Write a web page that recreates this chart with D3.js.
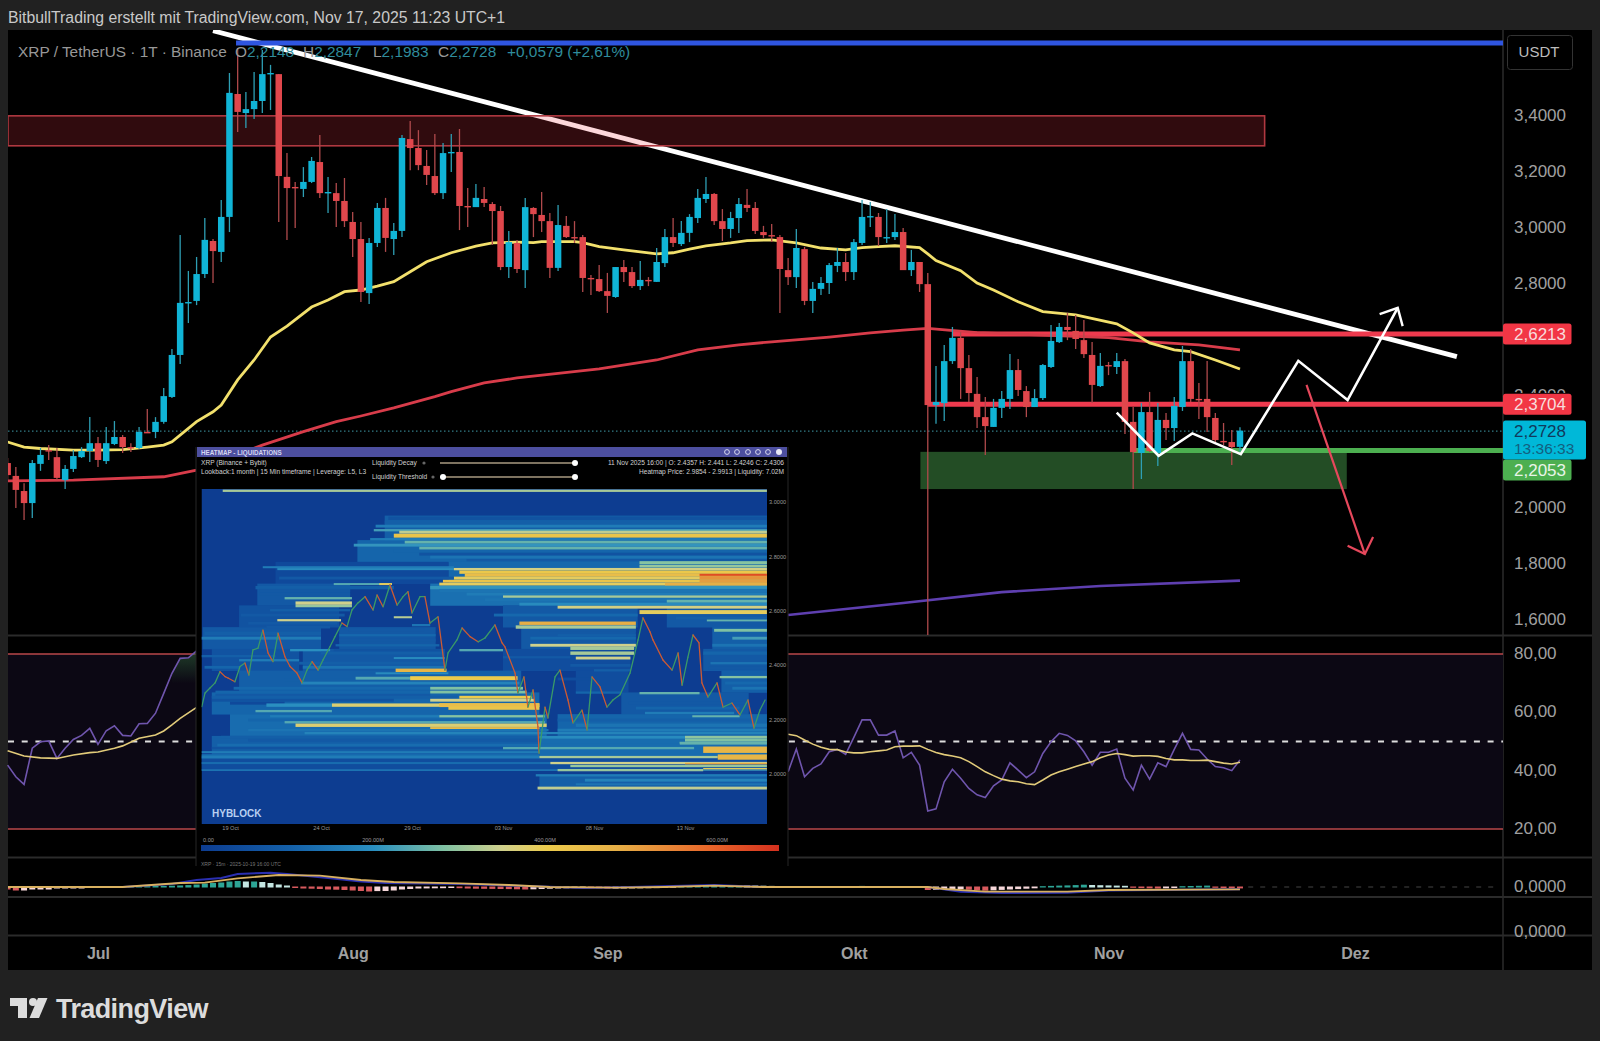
<!DOCTYPE html>
<html><head><meta charset="utf-8">
<style>html,body{margin:0;padding:0;background:#212121;overflow:hidden}svg{display:block}text{font-family:"Liberation Sans",Arial,sans-serif}</style>
<script src="https://cdn.jsdelivr.net/npm/d3@7"></script></head><body><div id="c"></div>
<script>
// ---- daily candles, first day is 20 Jun 2025 (day -11 relative to 1 Jul) ----
const firstDay=-11;
const opens=[2.157,2.111,2.057,2.014,2.154,2.203,2.178,2.096,2.136,2.178,2.200,
2.228,2.164,2.225,2.250,2.214,2.211,2.268,2.268,2.304,2.393,
2.543,2.729,2.736,2.832,2.950,2.911,3.036,3.475,3.407,3.421,
3.450,3.546,3.546,3.179,3.143,3.136,3.161,3.232,3.121,3.121,
3.093,3.018,2.957,2.764,2.943,3.068,2.957,2.986,3.314,3.282,
3.218,3.182,3.121,3.264,3.268,3.075,3.071,3.100,3.082,3.057,
2.857,2.943,2.846,3.068,3.043,3.021,2.854,3.004,2.964,2.964,
2.818,2.814,2.771,2.750,2.857,2.839,2.789,2.811,2.804,2.871,
2.964,2.939,2.979,3.032,3.100,3.118,3.021,2.993,3.032,3.079,
3.068,2.982,2.971,2.964,2.846,2.821,2.921,2.736,2.779,2.800,
2.861,2.875,2.839,2.943,3.036,3.036,2.961,2.964,2.982,2.846,
2.875,2.796,2.364,2.371,2.521,2.604,2.496,2.404,2.321,2.286,
2.354,2.386,2.489,2.414,2.357,2.389,2.500,2.589,2.643,2.629,
2.596,2.543,2.432,2.507,2.500,2.521,2.304,2.193,2.339,2.193,
2.311,2.282,2.357,2.521,2.386,2.386,2.318,2.236,2.232,2.2148];
const highs=[2.175,2.143,2.085,2.168,2.211,2.221,2.211,2.150,2.203,2.214,2.321,
2.250,2.286,2.307,2.257,2.228,2.286,2.350,2.321,2.425,2.564,
2.971,2.843,2.893,3.032,2.957,3.096,3.550,3.639,3.482,3.554,
3.632,3.579,3.546,3.264,3.161,3.214,3.250,3.329,3.179,3.157,
3.175,3.054,3.018,2.961,3.086,3.104,3.014,3.329,3.379,3.346,
3.275,3.332,3.300,3.332,3.350,3.139,3.154,3.143,3.089,3.075,
2.986,2.954,3.104,3.071,3.125,3.050,3.079,3.039,3.021,2.971,
2.829,2.864,2.836,2.857,2.882,2.857,2.879,2.821,2.925,2.993,
3.032,3.021,3.046,3.136,3.179,3.121,3.064,3.054,3.104,3.136,
3.089,3.004,3.011,2.971,2.889,2.993,2.929,2.804,2.821,2.871,
2.925,2.907,2.957,3.096,3.089,3.050,3.064,3.046,2.996,2.918,
2.875,2.836,2.504,2.579,2.643,2.625,2.543,2.464,2.393,2.386,
2.414,2.546,2.529,2.432,2.421,2.511,2.650,2.657,2.693,2.686,
2.668,2.589,2.550,2.518,2.550,2.529,2.357,2.371,2.411,2.371,
2.336,2.393,2.575,2.564,2.443,2.521,2.336,2.300,2.275,2.2847];
const lows=[2.096,1.996,1.954,1.961,2.129,2.168,2.096,2.064,2.125,2.175,2.161,
2.143,2.154,2.221,2.193,2.196,2.207,2.264,2.246,2.297,2.389,
2.511,2.657,2.721,2.818,2.800,2.875,2.982,3.339,3.354,3.386,
3.407,3.418,3.018,2.954,2.996,3.107,3.157,3.104,3.050,3.000,
3.000,2.893,2.732,2.725,2.929,2.911,2.900,2.964,3.203,3.203,
3.150,3.114,3.100,3.196,2.989,3.000,3.071,3.071,2.936,2.846,
2.818,2.836,2.782,2.964,2.982,2.818,2.843,2.961,2.943,2.768,
2.757,2.768,2.693,2.747,2.804,2.782,2.775,2.789,2.804,2.857,
2.929,2.932,2.946,3.014,3.086,3.007,2.950,2.961,2.979,3.054,
2.975,2.961,2.946,2.693,2.793,2.782,2.721,2.693,2.757,2.761,
2.839,2.807,2.811,2.936,3.000,2.932,2.943,2.954,2.846,2.825,
2.768,1.543,2.297,2.307,2.511,2.386,2.375,2.282,2.186,2.286,
2.318,2.350,2.396,2.321,2.357,2.382,2.496,2.586,2.596,2.564,
2.532,2.371,2.429,2.471,2.475,2.261,2.064,2.100,2.196,2.146,
2.239,2.236,2.343,2.375,2.314,2.268,2.232,2.221,2.150,2.1983];
const closes=[2.114,2.061,2.014,2.157,2.186,2.200,2.104,2.136,2.182,2.200,2.228,
2.168,2.228,2.250,2.214,2.211,2.268,2.264,2.304,2.396,2.543,
2.729,2.732,2.832,2.954,2.914,3.036,3.479,3.411,3.421,3.450,
3.546,3.550,3.182,3.139,3.139,3.161,3.236,3.121,3.125,3.093,
3.021,2.957,2.768,2.943,3.068,2.961,2.986,3.318,3.282,3.221,
3.186,3.121,3.264,3.268,3.075,3.071,3.104,3.086,3.057,2.857,
2.946,2.850,3.071,3.046,3.021,2.854,3.007,2.964,2.961,2.818,
2.815,2.771,2.754,2.857,2.839,2.789,2.811,2.807,2.875,2.964,
2.943,2.979,3.036,3.104,3.118,3.021,2.993,3.032,3.082,3.068,
2.986,2.971,2.968,2.850,2.821,2.925,2.736,2.779,2.800,2.864,
2.875,2.839,2.946,3.036,3.039,2.964,2.964,2.982,2.846,2.875,
2.796,2.364,2.375,2.521,2.604,2.496,2.407,2.321,2.289,2.354,
2.386,2.489,2.418,2.357,2.389,2.507,2.593,2.643,2.632,2.600,
2.546,2.436,2.504,2.504,2.521,2.304,2.196,2.339,2.200,2.311,
2.282,2.361,2.521,2.386,2.382,2.321,2.239,2.232,2.214,2.2728];
// ---- moving averages (days relative to 1 Jul, prices) ----
const ema50Days=[-11,-9,-7,-3,0,3,6,8,9,12,14,15,17,19,21,23,26,28,30,32,34,36,38,40,43,46,48,51,53,54,58,59,61,64,68,70,72,74,77,79,82,85,88,91,93,95,97,100,101,102,105,107,109,112,115,119,124,126,128,131,133,136,139];
const ema50Values=[2.232,2.214,2.209,2.203,2.203,2.205,2.214,2.221,2.233,2.305,2.340,2.364,2.454,2.525,2.607,2.646,2.714,2.739,2.769,2.775,2.789,2.805,2.840,2.876,2.908,2.932,2.943,2.946,2.944,2.948,2.948,2.944,2.930,2.918,2.904,2.908,2.921,2.933,2.943,2.951,2.954,2.943,2.925,2.918,2.926,2.930,2.933,2.926,2.904,2.880,2.844,2.800,2.775,2.733,2.698,2.686,2.654,2.622,2.586,2.561,2.555,2.525,2.493];
const ema200Days=[-11,-3,8,12,20,25,29,32,36,41,43,47,51,61,68,73,78,82,89,94,98,101,107,123,128,134,139];
const ema200Values=[2.093,2.096,2.108,2.132,2.221,2.269,2.305,2.325,2.354,2.394,2.412,2.443,2.461,2.493,2.525,2.561,2.579,2.590,2.607,2.622,2.632,2.638,2.623,2.605,2.590,2.579,2.561];
const longMaDays=[84,98,110,122,139];
const longMaValues=[1.614,1.657,1.696,1.718,1.737];
// ---- chart drawings ----
const zoneTop=3.397, zoneBottom=3.290, zoneEndDay=142;
const demandTop=2.197, demandBottom=2.064, demandStartDay=100.1, demandEndDay=152;
const levels=[2.6213,2.3704,2.2053], levelStartDays=[104,101,126];
const lastPrice=2.2728;
const ceilingPrice=3.657, ceilingStartDay=16.8;
const trendDays=[14,165.4], trendPrices=[3.701,2.537];
const zigzagDays=[124,129.1,133.2,139.1,146.1,152.1,158.2], zigzagPrices=[2.337,2.183,2.263,2.189,2.522,2.382,2.711];
const upHeadDays=[156,158.2,158.8], upHeadPrices=[2.689,2.711,2.646];
const downDays=[147.1,154.2], downPrices=[2.436,1.832];
const downHeadDays=[152.1,154.2,155.2], downHeadPrices=[1.862,1.832,1.893];
// ---- axes ----
const monthDays=[0,31,62,92,123,153], monthLabels=["Jul","Aug","Sep","Okt","Nov","Dez"];
const priceTicks=[3.4,3.2,3.0,2.8,2.4,2.0,1.8,1.6];
const rsiTicks=[80,60,40,20];
// ---- RSI ----
const rsiLeftDays=d3.range(-11,13);
const rsiLeft=[41.9,37.9,35.3,47.7,49.9,50.2,44.2,47.7,50.7,52.1,54.5,49.0,53.7,55.4,52.1,51.9,56.1,56.2,59.7,66.5,73.4,78.5,78.7,81.1];
const rsiMaLeftDays=[-11,-9,-7,-5,-3,-1,0,2,3,5,7,8,9,10,12];
const rsiMaLeft=[46.8,45.0,44.4,44.2,45.4,46.2,46.4,47.7,48.5,51.1,52.2,53.6,55.7,57.9,61.7];
const rsiRightDays=d3.range(84,140);
const rsiRight=[39.6,47.4,37.9,40.8,42.3,46.5,47.3,45.6,51.4,57.4,57.4,52.2,52.2,53.6,44.4,46.3,41.9,26.2,26.9,36.2,40.5,37.4,33.9,31.7,30.8,34.8,36.8,42.7,40.2,37.6,39.6,45.9,49.9,52.8,52.1,50.2,46.5,41.9,46.3,46.3,47.4,37.4,33.4,41.9,37.1,42.7,41.4,47.3,52.8,47.3,47.1,44.0,41.4,41.0,40.0,43.7];
const rsiMaRight=[52.5,52.0,50.5,49.1,48.0,47.3,47.2,46.4,46.1,46.1,46.5,46.8,47.1,48.2,48.4,48.4,48.5,47.3,46.2,45.5,45.0,44.4,43.1,41.4,39.6,38.3,37.1,36.5,36.2,35.5,35.2,36.8,38.5,39.6,40.5,41.4,42.3,43.1,44.4,45.4,45.9,45.5,45.0,45.1,45.1,44.9,44.2,43.7,43.7,43.5,43.5,43.6,43.1,42.6,42.3,42.9];
// ---- MACD ----
const histogram=[-.02,-.03,-.03,-.02,-.02,-.02,-.01,-.01,-.01,-.01,0,
0,0,.002,.002,.003,.003,.004,.005,.006,.008,
.01,.014,.02,.03,.035,.04,.05,.055,.05,.05,.045,.035,.02,.01,
-.005,-.01,-.012,-.015,-.02,-.022,-.025,-.03,-.035,-.04,-.036,-.035,-.03,-.02,-.015,-.01,-.009,-.008,-.007,-.005,
-.007,-.01,-.012,-.013,-.014,-.015,-.016,-.018,-.02,-.018,-.015,-.012,-.01,-.008,-.006,-.005,
-.006,-.008,-.012,-.011,-.01,-.009,-.008,-.007,-.006,-.004,-.002,.002,.004,.006,.008,.01,.011,.012,.012,.011,.01,.008,.006,.005,
.003,.003,.004,.005,.004,.003,.003,.004,.005,.006,.005,.005,.004,.004,.002,.001,-.001,
-.025,-.022,-.02,-.018,-.016,-.022,-.028,-.032,-.028,-.024,-.02,-.016,-.012,-.008,.003,.006,.009,.011,.014,.018,.015,.013,.011,.009,.007,-.003,-.006,-.008,-.01,-.008,-.005,.003,.005,.007,.009,-.003,-.005,-.007,-.009];
const macdDays=[-11,3,9,12,15,17,21,23,28,32,35,44,50,55,59,65,75,81,93,101,105,110,118,123,139];
const macdValues=[0,0,.03,.07,.09,.13,.143,.13,.09,.055,.04,.03,.015,.003,-.01,0,.02,0,0,0,-.047,-.06,-.057,-.035,-.023];
const signalDays=[-11,3,10,13,17,22,27,32,36,44,50,55,63,69,75,81,101,103,108,118,123,139];
const signalValues=[0,0,.04,.043,.087,.12,.113,.07,.05,.037,.02,0,-.007,0,.013,0,0,-.02,-.047,-.047,-.03,-.023];
// ---- inset heatmap: [price level, price span, start day, end day, intensity]; days from 19 Oct ----
const heatWash=[
[2.90,.10,8.5,29.5,.22],[2.82,.08,7,29.5,.24],[2.74,.08,12,29.5,.25],[2.74,.08,2.5,12,.14],[2.66,.08,1.5,6.6,.2],[2.66,.08,11,29.5,.27],[2.58,.08,.5,6,.18],[2.58,.08,15,22.4,.2],[2.58,.08,24,29.5,.2],[2.50,.08,-1.5,5,.2],[2.50,.08,6,11.3,.2],[2.50,.08,16,22.3,.2],[2.50,.08,26.5,29.5,.22],[2.42,.08,-1,3.8,.18],[2.42,.08,4,11.8,.2],[2.42,.08,15,22,.16],[2.42,.08,26,29.5,.2],[2.34,.08,.5,16,.22],[2.34,.08,19,21.9,.16],[2.34,.08,27,29.5,.22],[2.26,.08,-1,17,.24],[2.26,.08,21.5,28.5,.2],[2.18,.08,0,17.4,.26],[2.18,.08,18,29.5,.24],[2.10,.08,-1,17,.22],[2.10,.08,17,29.5,.26],[2.04,.05,-1.57,29.5,.16],[1.97,.05,17,29.5,.22]];
const heatBands=[
[3.042,.007,-.4,29.5,.50],[2.941,.011,8.7,29.5,.18],[2.926,.011,8.5,29.5,.22],[2.912,.009,8.0,29.5,.30],[2.897,.007,7.9,29.5,.38],[2.890,.009,9.3,29.5,.53],[2.877,.013,9.0,29.5,.64],[2.864,.007,7.7,29.5,.30],[2.853,.009,9.6,29.5,.42],[2.842,.009,6.8,29.5,.36],[2.831,.009,10.4,29.5,.42],[2.820,.009,9,29.5,.24],[2.809,.009,10.4,29.5,.18],[2.798,.009,11,29.5,.28],[2.787,.007,13,29.5,.20],[2.778,.009,22.5,29.5,.46],[2.765,.009,22.5,29.5,.48],[2.761,.006,1.8,12.3,.30],[2.754,.006,2.6,12.3,.34],[2.754,.007,12.3,29.5,.56],[2.743,.011,12.6,29.5,.63],[2.732,.011,12.9,29.5,.66],[2.721,.009,12.3,29.5,.60],[2.710,.009,11.7,29.5,.64],[2.699,.009,11.5,29.5,.60],[2.733,.006,25.8,29.5,.92],[2.722,.011,25.8,29.5,.76],[2.710,.011,25.8,29.5,.74],[2.699,.009,23.9,29.5,.70],[2.721,.009,2.7,12.3,.20],[2.699,.006,5.7,8.8,.40],[2.699,.006,8.2,8.9,.6],[2.686,.011,1.4,9,.22],[2.686,.011,11,29.5,.36],[2.675,.011,1.6,6.6,.2],[2.675,.011,11.5,29.5,.28],[2.662,.009,1.6,6.6,.2],[2.662,.009,13,29.5,.30],[2.647,.007,3,6.7,.42],[2.653,.007,15,29.5,.50],[2.642,.009,14,29.5,.28],[2.636,.009,24,29.5,.42],[2.629,.011,3.6,6.7,.55],[2.618,.007,3.6,6.7,.48],[2.625,.009,15.9,29.5,.34],[2.614,.009,18,29.5,.56],[2.603,.007,2.2,6.6,.22],[2.596,.013,22.5,29.5,.60],[2.585,.009,.6,6.3,.20],[2.585,.009,14.5,22.4,.25],[2.566,.007,2.6,6.1,.55],[2.566,.007,26.2,29.5,.42],[2.574,.009,24.5,29.5,.22],[2.555,.009,1,5.9,.20],[2.555,.011,15.9,22.3,.70],[2.541,.011,15.7,22.3,.50],[2.541,.009,2,5.5,.2],[2.529,.009,17,22.3,.20],[2.529,.009,26.6,29.5,.45],[2.518,.011,-1.4,5,.22],[2.511,.007,18,22.3,.22],[2.500,.009,-1.57,5,.30],[2.5,.009,16.5,22.3,.25],[2.5,.009,27.6,29.5,.38],[2.474,.009,16.5,22.3,.55],[2.474,.009,26.5,29.5,.28],[2.463,.011,18.7,22.2,.50],[2.456,.007,3.3,5.5,.35],[2.456,.007,12.6,15,.40],[2.445,.011,18.7,22.2,.50],[2.445,.011,26,29.5,.24],[2.434,.007,-1.57,2.5,.22],[2.427,.009,19,22,.55],[2.419,.007,.5,3.8,.30],[2.577,.006,9.0,10,.52],[2.548,.007,10,11,.28],[2.529,.009,6.5,10.7,.20],[2.511,.007,6,11.3,.25],[2.493,.009,6,11.3,.20],[2.474,.007,5.8,11.5,.24],[2.456,.007,5.7,11.6,.18],[2.445,.009,5,11.7,.22],[2.427,.006,9,11.8,.34],[2.408,.009,3.8,11.8,.22],[2.393,.009,4,11.8,.28],[2.393,.009,-1.4,.5,.24],[2.39,.009,26.3,29.5,.2],[2.43,.007,15,18.7,.2],[2.408,.007,26.4,29.5,.28],[2.40,.009,18.7,22,.2],[2.382,.007,20,22,.22],[2.382,.011,9.1,11.9,.68],[2.371,.006,8,12,.34],[2.357,.007,26.9,29.5,.46],[2.35,.009,18,20,.16],[2.346,.007,3,6.9,.22],[2.353,.009,6.9,10.9,.40],[2.353,.013,9.9,15.8,.62],[2.335,.009,3.9,15.9,.32],[2.335,.009,27.2,29.5,.25],[2.316,.009,.2,11,.25],[2.316,.009,11,16.1,.45],[2.316,.009,27.6,29.5,.28],[2.302,.009,-.8,11,.24],[2.302,.009,11,16.3,.45],[2.30,.007,19,21.5,.24],[2.298,.007,22.5,25.8,.42],[2.291,.007,-.8,11,.2],[2.283,.009,-1,12.5,.22],[2.283,.009,12.6,16.6,.62],[2.272,.009,-1,9,.18],[2.272,.009,11,16.7,.55],[2.261,.009,21.9,28.5,.2],[2.261,.009,0,3,.14],[2.254,.011,2,5.6,.35],[2.254,.011,5.6,17,.58],[2.254,.013,11.5,17,.66],[2.243,.011,12,17,.64],[2.243,.009,22.3,28,.24],[2.232,.007,1.4,5.6,.40],[2.225,.007,22.8,27.7,.3],[2.213,.007,2.2,11.5,.30],[2.213,.007,11.5,17.3,.46],[2.213,.006,25.4,28,.42],[2.199,.009,1,17,.24],[2.199,.009,18,28.7,.22],[2.191,.007,3,17.3,.40],[2.180,.011,3.6,17.4,.58],[2.180,.011,19,29.5,.28],[2.169,.007,11,17,.66],[2.162,.007,1,17.5,.28],[2.162,.009,18,29.5,.3],[2.151,.007,4.1,29.5,.32],[2.136,.009,-.5,17.3,.22],[2.136,.009,17,25,.34],[2.136,.009,25,29.5,.47],[2.125,.009,1,17,.2],[2.125,.009,25,29.5,.45],[2.114,.009,24.7,29.5,.42],[2.107,.009,-.7,24.7,.26],[2.096,.007,-1,15,.18],[2.096,.007,15,25.5,.40],[2.090,.022,26,29.5,.68],[2.081,.006,-1.57,17,.3],[2.070,.006,-1.57,17,.26],[2.063,.009,-1.57,17,.30],[2.063,.007,17,26.8,.50],[2.063,.018,26.8,29.5,.68],[2.041,.006,-1.57,17.6,.26],[2.041,.007,17.6,29.5,.55],[2.039,.004,25,29.5,.72],[2.030,.007,18.7,29.5,.48],[2.018,.008,26,29.5,.60],[2.015,.004,-1.57,29.5,.30],[2.015,.007,18,26,.48],[1.996,.007,16.8,29.5,.30],[1.978,.009,19.5,29.5,.32],[1.963,.006,19,29.5,.28],[1.949,.009,16.9,29.5,.53]];
const heatPriceDays=[-1.55,-1.37,-1.10,-.82,-.55,-.27,-.11,.27,.55,.82,1.04,1.26,1.54,1.81,2.09,2.36,2.64,3.02,3.30,3.68,3.96,4.23,4.51,4.84,5.11,5.49,5.77,6.15,6.43,6.70,7.03,7.42,7.86,8.08,8.41,8.79,9.18,9.51,9.78,10.0,10.44,10.71,10.99,11.43,11.81,11.98,12.47,12.75,13.19,13.63,14.01,14.56,14.95,15.11,15.66,15.82,16.15,16.37,16.65,16.92,16.98,17.31,17.47,17.86,18.13,18.57,18.85,19.34,19.62,19.89,20.33,20.71,21.04,21.43,21.98,22.42,22.69,23.08,23.24,23.79,24.29,24.62,24.84,25.16,25.44,25.77,25.93,26.26,26.76,27.09,27.58,28.02,28.46,28.79,29.12,29.40];
const heatPriceValues=[2.248,2.298,2.316,2.335,2.376,2.358,2.353,2.339,2.395,2.408,2.364,2.456,2.463,2.529,2.445,2.413,2.518,2.431,2.395,2.371,2.335,2.382,2.413,2.382,2.419,2.468,2.505,2.555,2.542,2.603,2.629,2.652,2.603,2.658,2.615,2.695,2.621,2.652,2.670,2.592,2.652,2.652,2.555,2.578,2.382,2.445,2.493,2.537,2.505,2.486,2.500,2.548,2.482,2.467,2.371,2.298,2.357,2.246,2.309,2.173,2.077,2.246,2.206,2.357,2.382,2.272,2.188,2.235,2.162,2.357,2.320,2.246,2.272,2.291,2.371,2.493,2.574,2.522,2.493,2.419,2.382,2.445,2.327,2.430,2.511,2.482,2.335,2.283,2.335,2.246,2.261,2.217,2.272,2.169,2.235,2.272];
const heatDayTicks=[0,5,10,15,20,25], heatDayLabels=["19 Oct","24 Oct","29 Oct","03 Nov","08 Nov","13 Nov"];
const heatPriceTicks=[3.0,2.8,2.6,2.4,2.2,2.0];
const barLabels=[0,200,400,600], barLabelText=["0.00","200.00M","400.00M","600.00M"];

// ---- scales ----
const W=1600,H=1041,L=8,R=1503;
const x=d3.scaleLinear().domain([0,153]).range([98,1355]);
const y=d3.scaleLinear().domain([1.6,3.4]).range([619,115]);
const yR=d3.scaleLinear().domain([20,80]).range([829,654]);
const yM=d3.scaleLinear().domain([-.45,0]).range([932,887]);
const hx=d3.scaleLinear().domain([0,25]).range([230,685]);
const hy=d3.scaleLinear().domain([2,3]).range([774,502]);
const heatColor=d3.scaleLinear().domain([0,.15,.25,.35,.45,.55,.62,.72,.85,1])
 .range(["#0c3a8e","#0f4a9c","#1668ad","#2a8fc0","#7fc1a3","#cfd08c","#eccb4c","#e4a844","#e8662a","#d4301e"]);
const fmtDe=(v,n)=>d3.format("."+n+"f")(v).replace(".",",");
const svg=d3.select("#c").append("svg").attr("width",W).attr("height",H);
const defs=svg.append("defs");
function clip(id,a,b,w,h){defs.append("clipPath").attr("id",id).append("rect").attr("x",a).attr("y",b).attr("width",w).attr("height",h);}
clip("priceClip",L,30,R-L,606);clip("heatClip",201.5,489,565.5,335);clip("macdClip",L,858,R-L,39);clip("tickClip",R,100,90,293);
const lin=(xs,ys,fx,fy)=>d3.line().x((_,i)=>fx(xs[i])).y((_,i)=>fy(ys[i]))(xs);

// ---- frame ----
svg.append("rect").attr("width",W).attr("height",H).attr("fill","#212121");
svg.append("rect").attr("x",L).attr("y",30).attr("width",1592-L).attr("height",940).attr("fill","#000");
const seps=[635.5,857.5,897,935.5];
svg.selectAll(".sep").data(seps).enter().append("line").attr("x1",L).attr("x2",1592).attr("y1",d=>d).attr("y2",d=>d).attr("stroke","#2b2b2b").attr("stroke-width",2);
svg.append("line").attr("x1",R).attr("x2",R).attr("y1",30).attr("y2",970).attr("stroke","#2b2b2b").attr("stroke-width",1.5);

// ---- price pane ----
const P=svg.append("g").attr("clip-path","url(#priceClip)");
P.append("path").attr("d",lin(trendDays,trendPrices,x,y)).attr("stroke","#fff").attr("stroke-width",4.8).attr("fill","none");
P.append("rect").attr("x",L).attr("y",y(zoneTop)).attr("width",x(zoneEndDay)-L).attr("height",y(zoneBottom)-y(zoneTop)).attr("fill","rgba(242,54,69,.2)").attr("stroke","#b03840").attr("stroke-width",1.6);
P.append("rect").attr("x",x(demandStartDay)).attr("y",y(demandTop)).attr("width",x(demandEndDay)-x(demandStartDay)).attr("height",y(demandBottom)-y(demandTop)).attr("fill","#234d25");
P.append("line").attr("x1",x(ceilingStartDay)).attr("x2",R).attr("y1",y(ceilingPrice)).attr("y2",y(ceilingPrice)).attr("stroke","#2f55e0").attr("stroke-width",5);
P.append("line").attr("x1",L).attr("x2",R).attr("y1",y(lastPrice)+.5).attr("y2",y(lastPrice)+.5).attr("stroke","#3f9aa8").attr("stroke-dasharray","1.5 2.5").attr("stroke-width",1);
const levelColors=["#ee3a4e","#ee3a4e","#4caf50"];
P.selectAll(".lvl").data(levels).enter().append("line").attr("x1",(d,i)=>x(levelStartDays[i])).attr("x2",R).attr("y1",d=>y(d)+1).attr("y2",d=>y(d)+1).attr("stroke",(d,i)=>levelColors[i]).attr("stroke-width",5);
P.append("path").attr("d",lin(ema200Days,ema200Values,x,y)).attr("fill","none").attr("stroke","#d83c4a").attr("stroke-width",2.8);
P.append("path").attr("d",lin(longMaDays,longMaValues,x,y)).attr("fill","none").attr("stroke","#5e3fb0").attr("stroke-width",2.6);
P.append("path").attr("d",lin(ema50Days,ema50Values,x,y)).attr("fill","none").attr("stroke","#f2e06c").attr("stroke-width",2.8);
const candles=opens.map((o,i)=>({d:firstDay+i,o,h:highs[i],l:lows[i],c:closes[i]}));
const candleUp="#10b4d6",candleDown="#e0474c";
const cg=P.selectAll(".c").data(candles).enter().append("g");
cg.append("line").attr("x1",d=>x(d.d)).attr("x2",d=>x(d.d)).attr("y1",d=>y(d.h)).attr("y2",d=>y(d.l)).attr("stroke",d=>d.c>=d.o?"#2e9fb4":"#b04a4c").attr("stroke-width",1.3);
cg.append("rect").attr("x",d=>x(d.d)-3.25).attr("width",6.5).attr("y",d=>y(Math.max(d.o,d.c))).attr("height",d=>Math.max(1.4,Math.abs(y(d.o)-y(d.c)))).attr("fill",d=>d.c>=d.o?candleUp:candleDown);
function stroke(xs,ys,col,w){P.append("path").attr("d",lin(xs,ys,x,y)).attr("fill","none").attr("stroke",col).attr("stroke-width",w).attr("stroke-linejoin","miter");}
stroke(zigzagDays,zigzagPrices,"#fff",2.6);stroke(upHeadDays,upHeadPrices,"#fff",2.4);
stroke(downDays,downPrices,"#e6485c",2.2);stroke(downHeadDays,downHeadPrices,"#e6485c",2.2);
P.append("text").attr("x",847).attr("y",36).attr("fill","#ddd").attr("font-size",16).attr("font-weight",700).attr("letter-spacing",4).text("''''");

// legend
const lg=svg.append("g").attr("font-size",15.4);
lg.append("text").attr("x",18).attr("y",57).attr("fill","#989898").text("XRP / TetherUS · 1T · Binance");
const ohlcLabels=["O","H","L","C"],ohlcValues=["2,2148","2,2847","2,1983","2,2728"],ohlcX=[235,303,373,438];
ohlcLabels.forEach((t,i)=>{const n=lg.append("text").attr("x",ohlcX[i]).attr("y",57);n.append("tspan").attr("fill","#989898").text(t);n.append("tspan").attr("fill","#2f8c9c").text(ohlcValues[i]);});
lg.append("text").attr("x",507).attr("y",57).attr("fill","#2f8c9c").text("+0,0579 (+2,61%)");
svg.append("text").attr("x",8).attr("y",23).attr("fill","#c9c9c9").attr("font-size",15.8).text("BitbullTrading erstellt mit TradingView.com, Nov 17, 2025 11:23 UTC+1");

// ---- RSI pane ----
svg.append("rect").attr("x",L).attr("y",yR(80)).attr("width",R-L).attr("height",yR(20)-yR(80)).attr("fill","#0c0814");
const rsiLines=[80,20];
svg.selectAll(".rl").data(rsiLines).enter().append("line").attr("x1",L).attr("x2",R).attr("y1",d=>yR(d)).attr("y2",d=>yR(d)).attr("stroke","#b8474a").attr("stroke-width",1.5);
svg.append("line").attr("x1",L).attr("x2",R).attr("y1",yR(50)).attr("y2",yR(50)).attr("stroke","#ddd").attr("stroke-width",2).attr("stroke-dasharray","6 7.7");
const grad=defs.append("linearGradient").attr("id","ob").attr("x1",0).attr("x2",0).attr("y1",0).attr("y2",1);
grad.append("stop").attr("offset",0).attr("stop-color","#2f6a3a").attr("stop-opacity",.55);
grad.append("stop").attr("offset",1).attr("stop-color","#2f6a3a").attr("stop-opacity",0);
const obStart=rsiLeftDays.indexOf(9);
svg.append("path").attr("fill","url(#ob)").attr("d",d3.area().x(d=>x(d)).y0(yR(70)).y1((d,i)=>yR(rsiLeft[obStart+i]))(rsiLeftDays.slice(obStart)));
const rg=svg.append("g").attr("fill","none").attr("stroke-width",1.6);
rg.append("path").attr("d",lin(rsiLeftDays,rsiLeft,x,yR)).attr("stroke","#6f55ad");
rg.append("path").attr("d",lin(rsiRightDays,rsiRight,x,yR)).attr("stroke","#6f55ad");
rg.append("path").attr("d",lin(rsiMaLeftDays,rsiMaLeft,x,yR)).attr("stroke","#e2cb7a");
rg.append("path").attr("d",lin(rsiRightDays,rsiMaRight,x,yR)).attr("stroke","#e2cb7a");

// ---- MACD pane ----
const M=svg.append("g").attr("clip-path","url(#macdClip)");
M.append("line").attr("x1",x(140)).attr("x2",R-8).attr("y1",yM(0)).attr("y2",yM(0)).attr("stroke","#444").attr("stroke-dasharray","5 7");
const histColor=(v,i)=>{const p=i?histogram[i-1]:0;return v>=0?(v>=p?"#2da596":"#c4e6e2"):(v<p?"#d85a5e":"#f6d7da");};
M.selectAll(".h").data(histogram).enter().append("rect").attr("x",(d,i)=>x(firstDay+i)-3).attr("width",6)
 .attr("y",d=>Math.min(yM(d),yM(0))-.5).attr("height",d=>Math.abs(yM(d)-yM(0))+1).attr("fill",histColor);
M.append("path").attr("d",lin(macdDays,macdValues,x,yM)).attr("fill","none").attr("stroke","#2a2fb0").attr("stroke-width",2);
M.append("path").attr("d",lin(signalDays,signalValues,x,yM)).attr("fill","none").attr("stroke","#d8b060").attr("stroke-width",1.8);

// ---- axes ----
const axisText=g=>g.selectAll("text").attr("fill","#a0a0a0").attr("font-size",17).attr("font-family",'"Liberation Sans",Arial,sans-serif');
const clean=g=>{g.select(".domain").remove();g.selectAll("line").remove();};
const aPwrap=svg.append("g").attr("clip-path","url(#tickClip)");
const aP=aPwrap.append("g").attr("transform","translate(1514,0)").call(d3.axisRight(y).tickValues(priceTicks.filter(v=>v>=2.4)).tickSize(0).tickPadding(0).tickFormat(d=>fmtDe(d,4)));
clean(aP);axisText(aP);
const aP2=svg.append("g").attr("transform","translate(1514,0)").call(d3.axisRight(y).tickValues(priceTicks.filter(v=>v<2.4)).tickSize(0).tickPadding(0).tickFormat(d=>fmtDe(d,4)));
clean(aP2);axisText(aP2);
const aR=svg.append("g").attr("transform","translate(1514,-1)").call(d3.axisRight(yR).tickValues(rsiTicks).tickSize(0).tickPadding(0).tickFormat(d=>fmtDe(d,2)));
clean(aR);axisText(aR);
const aM=svg.append("g").attr("transform","translate(1514,-1)").call(d3.axisRight(yM).tickValues([0,-.45]).tickSize(0).tickPadding(0).tickFormat(()=>fmtDe(0,4)));
clean(aM);axisText(aM);
const aX=svg.append("g").attr("transform","translate(0,948)").call(d3.axisBottom(x).tickValues(monthDays).tickSize(0).tickPadding(0).tickFormat((d,i)=>monthLabels[i]));
clean(aX);aX.selectAll("text").attr("fill","#a0a0a0").attr("font-size",16).attr("font-weight",700).attr("font-family",'"Liberation Sans",Arial,sans-serif');

// USDT box
svg.append("rect").attr("x",1507.5).attr("y",35.5).attr("width",65).attr("height",34).attr("rx",3).attr("fill","#000").attr("stroke","#333");
svg.append("text").attr("x",1539).attr("y",57).attr("text-anchor","middle").attr("fill","#bdbdbd").attr("font-size",15).text("USDT");

// price badges
const badgeColors=["#f23645","#f23645","#4caf50"], badgeShift=[1,1,20.5];
levels.forEach((v,i)=>{const cy=y(v)+badgeShift[i];
 svg.append("rect").attr("x",R).attr("y",cy-10.5).attr("width",68.5).attr("height",21).attr("rx",2.5).attr("fill",badgeColors[i]);
 svg.append("text").attr("x",1514).attr("y",cy+6).attr("fill",i==2?"#e9f5e9":"#f8dcdc").attr("font-size",17).text(fmtDe(v,4));});
const by=y(lastPrice);
svg.append("rect").attr("x",R).attr("y",by-10).attr("width",83).attr("height",39).attr("rx",2.5).attr("fill","#00b8d8");
svg.append("text").attr("x",1514).attr("y",by+6).attr("fill","#103a5c").attr("font-size",17).text(fmtDe(lastPrice,4));
svg.append("text").attr("x",1514).attr("y",by+23).attr("fill","#13607f").attr("font-size",15.5).text("13:36:33");

// ---- liquidation heatmap inset ----
const I=svg.append("g");
I.append("rect").attr("x",196).attr("y",447).attr("width",592).attr("height",419).attr("fill","#000");
[196,788].forEach(v=>I.append("line").attr("x1",v).attr("x2",v).attr("y1",447).attr("y2",866).attr("stroke","#262626"));
I.append("rect").attr("x",197).attr("y",447).attr("width",590).attr("height",10).attr("fill","#4d4f9f");
I.append("text").attr("x",201).attr("y",454.5).attr("fill","#d5d6f0").attr("font-size",6.3).attr("font-weight",700).text("HEATMAP - LIQUIDATIONS");
const icons=[727,737,748,758,768];
I.selectAll(".ic").data(icons).enter().append("circle").attr("cx",d=>d).attr("cy",452).attr("r",2.4).attr("fill","none").attr("stroke","#d8d8ee").attr("stroke-width",1);
I.append("circle").attr("cx",779).attr("cy",452).attr("r",3).attr("fill","#e8e8f5");
const small=(tx,ty,s,opt={})=>I.append("text").attr("x",tx).attr("y",ty).attr("fill",opt.c||"#d2d2d2").attr("font-size",opt.f||6.6).attr("text-anchor",opt.a||"start").attr("font-weight",opt.w||400).text(s);
small(201,465,"XRP (Binance + Bybit)");
small(201,474,"Lookback:1 month | 15 Min timeframe | Leverage: L5, L3");
small(372,465,"Liquidity Decay");small(372,479,"Liquidity Threshold");
small(784,465,"11 Nov 2025 16:00 | O: 2.4357 H: 2.441 L: 2.4246 C: 2.4306",{a:"end"});
small(784,474,"Heatmap Price: 2.9854 - 2.9913 | Liquidity: 7.02M",{a:"end"});
[463,477].forEach(v=>I.append("line").attr("x1",440).attr("x2",575).attr("y1",v).attr("y2",v).attr("stroke","#a89a80").attr("stroke-width",1.4));
[[575,463],[443,477],[575,477]].forEach(p=>I.append("circle").attr("cx",p[0]).attr("cy",p[1]).attr("r",3).attr("fill","#fff"));
[[424,463],[433,477]].forEach(p=>I.append("circle").attr("cx",p[0]).attr("cy",p[1]).attr("r",1.6).attr("fill","#666"));
const HC=I.append("g").attr("clip-path","url(#heatClip)");
HC.append("rect").attr("x",201.5).attr("y",489).attr("width",565.5).attr("height",335).attr("fill",heatColor(.03));
HC.selectAll(".b").data(heatWash.concat(heatBands)).enter().append("rect")
 .attr("x",d=>hx(d[2])).attr("width",d=>hx(d[3])-hx(d[2]))
 .attr("y",d=>hy(d[0]+d[1]/2)).attr("height",d=>hy(d[0]-d[1]/2)-hy(d[0]+d[1]/2)+.4).attr("fill",d=>heatColor(d[4]));
const segs=d3.pairs(heatPriceDays.map((d,i)=>[d,heatPriceValues[i]]));
HC.selectAll(".s").data(segs).enter().append("line")
 .attr("x1",d=>hx(d[0][0])).attr("x2",d=>hx(d[1][0])).attr("y1",d=>hy(d[0][1])).attr("y2",d=>hy(d[1][1]))
 .attr("stroke",d=>d[1][1]>=d[0][1]?"#3a9a68":"#cc5a34").attr("stroke-width",1.3).attr("stroke-linecap","round");
HC.append("text").attr("x",212).attr("y",817).attr("fill","#b9d0f2").attr("font-size",10).attr("font-weight",700).text("HYBLOCK");
const ax1=I.append("g").attr("transform","translate(0,826)").call(d3.axisBottom(hx).tickValues(heatDayTicks).tickSize(0).tickPadding(0).tickFormat((d,i)=>heatDayLabels[i]));
clean(ax1);ax1.selectAll("text").attr("fill","#9a9a9a").attr("font-size",5.6);
const ax2=I.append("g").attr("transform","translate(769,0)").call(d3.axisRight(hy).tickValues(heatPriceTicks).tickSize(0).tickPadding(0).tickFormat(d=>d3.format(".4f")(d)));
clean(ax2);ax2.selectAll("text").attr("fill","#9a9a9a").attr("font-size",5.6);
const bx=d3.scaleLinear().domain([0,672]).range([201,779]);
const barGrad=defs.append("linearGradient").attr("id","cb");
const barStops=[[0,.03],[.15,.22],[.3,.35],[.42,.45],[.52,.55],[.6,.62],[.72,.70],[.88,.85],[1,1]];
barStops.forEach(s=>barGrad.append("stop").attr("offset",s[0]).attr("stop-color",heatColor(s[1])));
I.append("rect").attr("x",bx(0)).attr("y",845).attr("width",bx(672)-bx(0)).attr("height",6).attr("fill","url(#cb)");
I.selectAll(".bl").data(barLabels).enter().append("text").attr("x",d=>bx(d)+(d?0:2)).attr("y",842).attr("text-anchor",d=>d?"middle":"start").attr("fill","#9a9a9a").attr("font-size",5.6).text((d,i)=>barLabelText[i]);
small(201,866,"XRP · 15m · 2025-10-19 16:00 UTC",{c:"#777",f:5});

// ---- brand ----
const B=svg.append("g").attr("fill","#dcdcdc");
B.append("path").attr("d","M10 998H27V1018H18V1006H10Z");
B.append("circle").attr("cx",33).attr("cy",1002).attr("r",4);
B.append("path").attr("d","M38 998H47.5L39 1018H29.5Z");
B.append("text").attr("x",56).attr("y",1018).attr("font-size",27).attr("font-weight",700).attr("letter-spacing",-.6).text("TradingView");
</script></body></html>
